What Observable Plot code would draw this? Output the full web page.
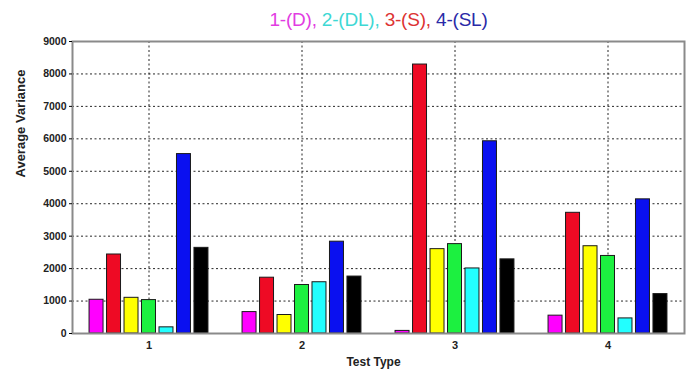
<!DOCTYPE html>
<html>
<head>
<meta charset="utf-8">
<script src="https://cdn.jsdelivr.net/npm/d3@7"></script>
<script src="https://cdn.jsdelivr.net/npm/@observablehq/plot@0.6"></script>
<style>
  body { margin: 0; background: #fff; font-family: "Liberation Sans", Arial, sans-serif; }
  #title { height: 32px; width: 693px; text-align: center; font-size: 19px; line-height: 40px; padding-left: 64px; box-sizing: border-box; letter-spacing: -0.2px; }
  #chart svg { display: block; }
</style>
</head>
<body>
<div id="title"></div>
<div id="chart"></div>
<script>
// ---- data ----
const testTypes = [1, 2, 3, 4];
const seriesNames = ["S1", "S2", "S3", "S4", "S5", "S6", "S7"];
const seriesColors = ["#ff00ff", "#ee0a24", "#ffff00", "#1cf040", "#22ffff", "#0a10f0", "#000000"];
const s1Values = [1040, 660, 80, 550];      // magenta
const s2Values = [2435, 1720, 8290, 3720];  // red
const s3Values = [1100, 570, 2600, 2690];   // yellow
const s4Values = [1030, 1495, 2755, 2390];  // green
const s5Values = [190, 1580, 2005, 465];    // cyan
const s6Values = [5530, 2830, 5925, 4135];  // blue
const s7Values = [2640, 1755, 2285, 1215];  // black
const yTicks = [0, 1000, 2000, 3000, 4000, 5000, 6000, 7000, 8000, 9000];
const yLabel = "Average Variance";
const xLabel = "Test Type";
const titleParts = ["1-(D), ", "2-(DL), ", "3-(S), ", "4-(SL)"];
const titleColors = ["#e23ce2", "#3ed8d4", "#dd3333", "#2a2aa8"];

// ---- title ----
const titleEl = document.getElementById("title");
titleParts.forEach((t, i) => {
  const s = document.createElement("span");
  s.textContent = t;
  s.style.color = titleColors[i];
  titleEl.appendChild(s);
});

// ---- grouped bar layout (MATLAB-style grouping) ----
const allSeries = [s1Values, s2Values, s3Values, s4Values, s5Values, s6Values, s7Values];
const n = allSeries.length;
const groupWidth = 0.8;
const spacing = groupWidth / n;
const barFrac = 0.8;
const data = [];
allSeries.forEach((vals, i) => {
  vals.forEach((v, gi) => {
    const g = testTypes[gi];
    const center = g - groupWidth / 2 + (i + 0.5) * spacing;
    data.push({
      series: seriesNames[i],
      x1: center - spacing * barFrac / 2,
      x2: center + spacing * barFrac / 2,
      value: v
    });
  });
});

const chart = Plot.plot({
  width: 693,
  height: 337,
  marginTop: 9,
  marginBottom: 36,
  marginLeft: 72,
  marginRight: 9,
  style: { fontFamily: "Liberation Sans, Arial, sans-serif", background: "#fff" },
  x: { domain: [0.5, 4.5] },
  y: { domain: [0, 9000] },
  color: { type: "ordinal", domain: seriesNames, range: seriesColors },
  marks: [
    Plot.gridY(yTicks, { stroke: "#000", strokeOpacity: 0.85, strokeDasharray: "2,2.5", strokeWidth: 1 }),
    Plot.gridX(testTypes, { stroke: "#000", strokeOpacity: 0.85, strokeDasharray: "2,2.5", strokeWidth: 1 }),
    Plot.rect(data, { x1: "x1", x2: "x2", y1: 0, y2: "value", fill: "series", stroke: "#1a1a1a", strokeWidth: 1 }),
    Plot.frame({ stroke: "#8a8a8a", strokeWidth: 2 }),
    Plot.axisY(yTicks, { tickSize: 3, tickPadding: 3, tickFormat: d => String(d), fontWeight: "bold", fontSize: 10.5, fill: "#222", label: null }),
    Plot.axisX(testTypes, { tickSize: 0, tickPadding: 8, tickFormat: d => String(d), fontWeight: "bold", fontSize: 11, fill: "#222", label: null }),
    Plot.text([yLabel], { text: d => d, frameAnchor: "left", rotate: -90, dx: -52, dy: -10, fontSize: 13, fontWeight: "bold", fill: "#222" }),
    Plot.text([xLabel], { text: d => d, frameAnchor: "bottom", dx: -5, dy: 32, fontSize: 12, fontWeight: "bold", fill: "#222" })
  ]
});
document.getElementById("chart").appendChild(chart);
</script>
</body>
</html>
